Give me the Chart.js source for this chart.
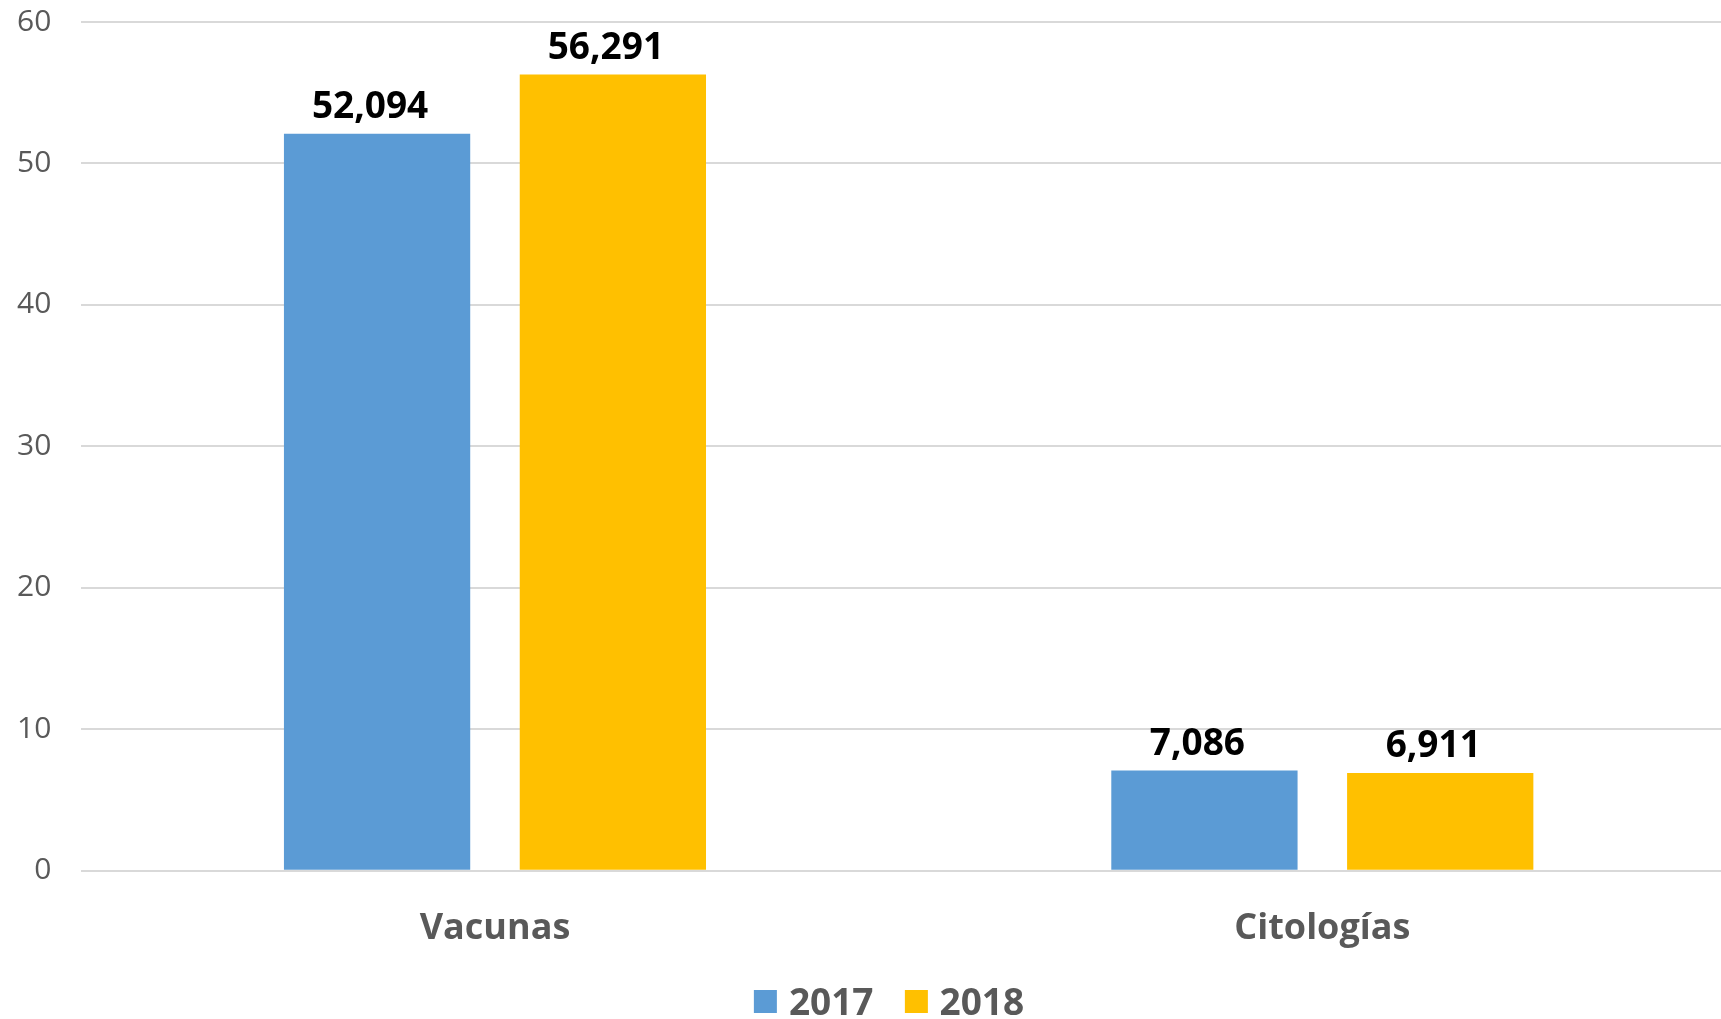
<!DOCTYPE html>
<html lang="es">
<head>
  <meta charset="UTF-8" />
  <title>Vacunas y Citologías 2017-2018</title>
  <style>
    html, body {
      margin: 0;
      padding: 0;
      background: #fff;
      overflow: hidden;
    }
    #wrap {
      width: 1749px;
      height: 1045px;
      margin-top: -26px;
      margin-left: -13px;
    }
    #legend {
      position: absolute;
      top: 979px;
      left: 889px;
      transform: translateX(-50%);
      display: flex;
      gap: 31px;
      font: bold 37px "Open Sans", sans-serif;
      color: #595959;
      line-height: 44px;
      white-space: nowrap;
    }
    #legend .item {
      display: flex;
      align-items: center;
      gap: 12px;
    }
    #legend .box {
      width: 23px;
      height: 23px;
    }
  </style>
  <script src="https://cdn.jsdelivr.net/npm/chart.js"></script>
</head>
<body>
  <div id="wrap">
    <canvas id="chart"></canvas>
  </div>
  <div id="legend"></div>

  <script>
    const categories = ['Vacunas', 'Citologías'];
    const seriesNames = ['2017', '2018'];
    const values2017 = [52.094, 7.086];
    const values2018 = [56.291, 6.911];
    const yTicks = [0, 10, 20, 30, 40, 50, 60];

    const FONT = '"Open Sans", sans-serif';
    const GREY = '#595959';

    // draws the value above each bar, with a decimal comma like the original
    const valueLabels = {
      id: 'valueLabels',
      afterDatasetsDraw(chart) {
        const ctx = chart.ctx;
        ctx.save();
        ctx.font = 'bold 37px ' + FONT;
        ctx.fillStyle = '#000';
        ctx.textAlign = 'center';
        ctx.textBaseline = 'bottom';
        chart.data.datasets.forEach((ds, i) => {
          chart.getDatasetMeta(i).data.forEach((bar, j) => {
            const txt = ds.data[j].toFixed(3).replace('.', ',');
            ctx.fillText(txt, bar.x - 7, bar.y - 8);
          });
        });
        ctx.restore();
      }
    };

    const chart = new Chart(document.getElementById('chart'), {
      type: 'bar',
      data: {
        labels: categories,
        datasets: [
          {
            label: seriesNames[0],
            data: values2017,
            backgroundColor: '#5B9BD5',
            categoryPercentage: 0.57,
            barPercentage: 0.79
          },
          {
            label: seriesNames[1],
            data: values2018,
            backgroundColor: '#FFC000',
            categoryPercentage: 0.57,
            barPercentage: 0.79
          }
        ]
      },
      options: {
        responsive: true,
        maintainAspectRatio: false,
        animation: false,
        layout: {
          padding: { top: 0, left: 0, right: 0, bottom: 41 }
        },
        scales: {
          x: {
            grid: { display: false },
            border: { display: false },
            ticks: {
              color: GREY,
              padding: 28,
              font: { family: FONT, size: 36, weight: 'bold' }
            }
          },
          y: {
            min: 0,
            max: 60,
            afterBuildTicks(axis) {
              axis.ticks = yTicks.map(v => ({ value: v }));
            },
            grid: {
              color: '#D9D9D9',
              lineWidth: 2,
              drawTicks: false
            },
            border: { display: false },
            ticks: {
              color: GREY,
              padding: 30,
              font: { family: FONT, size: 30 }
            }
          }
        },
        plugins: {
          legend: { display: false },
          tooltip: { enabled: false }
        }
      },
      plugins: [valueLabels]
    });

    // legend built from the chart's datasets, placed under the chart like the original
    const legendDiv = document.getElementById('legend');
    chart.data.datasets.forEach(ds => {
      const item = document.createElement('div');
      item.className = 'item';
      const box = document.createElement('span');
      box.className = 'box';
      box.style.background = ds.backgroundColor;
      const txt = document.createElement('span');
      txt.textContent = ds.label;
      item.appendChild(box);
      item.appendChild(txt);
      legendDiv.appendChild(item);
    });
  </script>
</body>
</html>
